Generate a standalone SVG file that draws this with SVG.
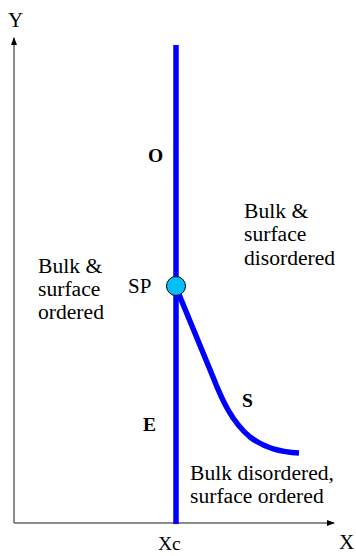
<svg xmlns="http://www.w3.org/2000/svg" width="356" height="556" viewBox="0 0 356 556">
<style>
.t{font-size:21px;fill:#000}
.l{font-size:21.6px}
.s{font-size:19.5px}
.b{font-weight:bold}
.ax{stroke:#666;stroke-width:1.5;fill:none}
.bl{stroke:#0000ff;stroke-width:5.5;fill:none}
</style>
<defs>
<marker id="ah" markerWidth="8" markerHeight="6" refX="7" refY="3" orient="auto" markerUnits="userSpaceOnUse">
<path d="M0,0 L8,3 L0,6 Z" fill="#000"/>
</marker>
</defs>
<rect width="356" height="556" fill="#fff"/>
<g id="connectors">
<line class="ax" x1="14" y1="523" x2="14" y2="38" marker-end="url(#ah)"/>
<line class="ax" x1="14" y1="523" x2="334" y2="523" marker-end="url(#ah)"/>
<line class="bl" x1="176" y1="45" x2="176" y2="524"/>
<path class="bl" d="M178,292 L213,377 C222,400 232,422 250,437 C266,449 282,452 299,453"/>
</g>
<g id="sp"><circle cx="176" cy="286" r="9.5" fill="#00bfff" stroke="#000" stroke-width="1"/></g>
<g id="labels" font-family="Liberation Serif, DejaVu Serif, serif">
<text class="t" x="8" y="27">Y</text>
<text class="t" x="339" y="549">X</text>
<text class="t s" x="158" y="550">Xc</text>
<text class="t s b" x="148" y="162">O</text>
<text class="t" x="128" y="293">SP</text>
<text class="t s b" x="143" y="431">E</text>
<text class="t s b" x="242" y="407">S</text>
<text class="t l" x="38" y="273">Bulk &amp;</text>
<text class="t l" x="38" y="296">surface</text>
<text class="t l" x="38" y="319">ordered</text>
<text class="t l" x="244" y="218">Bulk &amp;</text>
<text class="t l" x="244" y="241">surface</text>
<text class="t l" x="244" y="265">disordered</text>
<text class="t l" x="190" y="480">Bulk disordered,</text>
<text class="t l" x="190" y="503">surface ordered</text>
</g>
</svg>
